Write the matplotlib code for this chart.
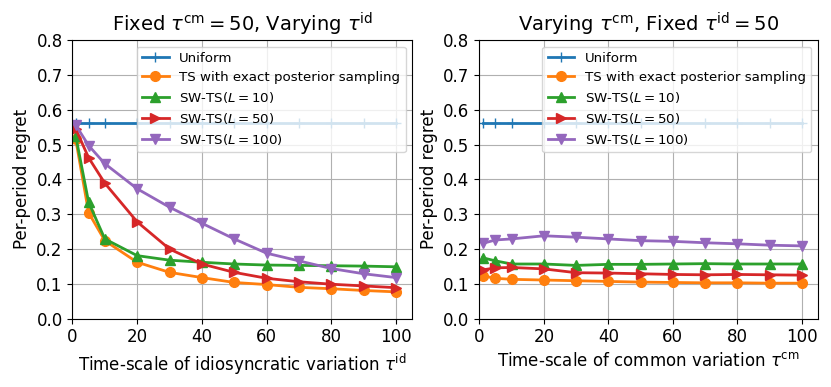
import matplotlib
matplotlib.use('Agg')
import matplotlib.pyplot as plt
import numpy as np

x = [1, 5, 10, 20, 30, 40, 50, 60, 70, 80, 90, 100]

# left panel: fixed tau_cm = 50, varying tau_id
uni_l = [0.563] * 12
ts_l = [0.515, 0.304, 0.224, 0.162, 0.133, 0.118, 0.104, 0.098, 0.090, 0.086, 0.081, 0.077]
sw10_l = [0.525, 0.334, 0.229, 0.181, 0.168, 0.162, 0.157, 0.154, 0.153, 0.152, 0.151, 0.149]
sw50_l = [0.545, 0.462, 0.389, 0.278, 0.200, 0.157, 0.133, 0.116, 0.106, 0.099, 0.094, 0.089]
sw100_l = [0.556, 0.497, 0.445, 0.373, 0.320, 0.274, 0.229, 0.188, 0.166, 0.144, 0.129, 0.118]

# right panel: varying tau_cm, fixed tau_id = 50
uni_r = [0.563] * 12
ts_r = [0.123, 0.116, 0.113, 0.111, 0.109, 0.107, 0.105, 0.104, 0.103, 0.103, 0.102, 0.102]
sw10_r = [0.175, 0.166, 0.157, 0.157, 0.153, 0.156, 0.156, 0.157, 0.158, 0.157, 0.157, 0.157]
sw50_r = [0.140, 0.146, 0.147, 0.143, 0.132, 0.131, 0.129, 0.127, 0.126, 0.127, 0.126, 0.125]
sw100_r = [0.216, 0.226, 0.229, 0.238, 0.234, 0.229, 0.224, 0.222, 0.218, 0.215, 0.211, 0.209]

labels = ['Uniform', 'TS with exact posterior sampling', r'SW-TS($L=10$)',
          r'SW-TS($L=50$)', r'SW-TS($L=100$)']
markers = ['+', 'o', '^', '>', 'v']

fig = plt.figure(figsize=(8.31, 3.87), dpi=100)
ax1 = fig.add_axes([0.0872, 0.1765, 0.4088, 0.7201])
ax2 = fig.add_axes([0.5768, 0.1765, 0.4075, 0.7201])

panels = [
    (ax1, [uni_l, ts_l, sw10_l, sw50_l, sw100_l],
     r'Fixed $\tau^{\rm cm}=50$, Varying $\tau^{\rm id}$',
     r'Time-scale of idiosyncratic variation $\tau^{\rm id}$'),
    (ax2, [uni_r, ts_r, sw10_r, sw50_r, sw100_r],
     r'Varying $\tau^{\rm cm}$, Fixed $\tau^{\rm id}=50$',
     r'Time-scale of common variation $\tau^{\rm cm}$'),
]

for ax, ys, title, xlabel in panels:
    for y, lab, m in zip(ys, labels, markers):
        ax.plot(x, y, marker=m, label=lab, lw=2, ms=7)
    ax.set_xlim(0, 105)
    ax.set_ylim(0, 0.8)
    ax.grid(True)
    ax.set_title(title, fontsize=14)
    ax.set_xlabel(xlabel, fontsize=12)
    ax.set_ylabel('Per-period regret', fontsize=12)
    ax.tick_params(labelsize=12)
    ax.legend(loc='upper right', fontsize=9.6, labelspacing=0.45)

fig.savefig('out.png', dpi=100)
